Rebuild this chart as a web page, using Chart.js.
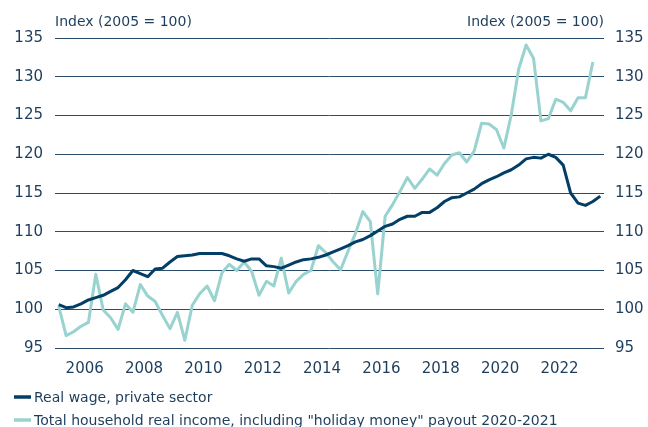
<!DOCTYPE html>
<html>
<head>
<meta charset="utf-8">
<script src="https://cdn.jsdelivr.net/npm/chart.js@4.4.1/dist/chart.umd.min.js"></script>
<style>
html, body { margin: 0; padding: 0; background: #fff; }
canvas { display: block; }
</style>
</head>
<body>
<canvas id="wageChart" width="648" height="427"></canvas>
<script>
const quarters = [
    '2005Q1','2005Q2','2005Q3','2005Q4','2006Q1','2006Q2','2006Q3','2006Q4',
    '2007Q1','2007Q2','2007Q3','2007Q4','2008Q1','2008Q2','2008Q3','2008Q4',
    '2009Q1','2009Q2','2009Q3','2009Q4','2010Q1','2010Q2','2010Q3','2010Q4',
    '2011Q1','2011Q2','2011Q3','2011Q4','2012Q1','2012Q2','2012Q3','2012Q4',
    '2013Q1','2013Q2','2013Q3','2013Q4','2014Q1','2014Q2','2014Q3','2014Q4',
    '2015Q1','2015Q2','2015Q3','2015Q4','2016Q1','2016Q2','2016Q3','2016Q4',
    '2017Q1','2017Q2','2017Q3','2017Q4','2018Q1','2018Q2','2018Q3','2018Q4',
    '2019Q1','2019Q2','2019Q3','2019Q4','2020Q1','2020Q2','2020Q3','2020Q4',
    '2021Q1','2021Q2','2021Q3','2021Q4','2022Q1','2022Q2','2022Q3','2022Q4',
    '2023Q1','2023Q2'
];

const realWage = [
    100.6, 100.2, 100.3, 100.7, 101.2, 101.5, 101.8, 102.3,
    102.8, 103.8, 105.0, 104.6, 104.2, 105.2, 105.3, 106.1,
    106.8, 106.9, 107.0, 107.2, 107.2, 107.2, 107.2, 106.9,
    106.5, 106.2, 106.5, 106.5, 105.6, 105.5, 105.3, 105.7,
    106.1, 106.4, 106.5, 106.7, 107.0, 107.4, 107.8, 108.2,
    108.7, 109.0, 109.5, 110.1, 110.7, 111.0, 111.6, 112.0,
    112.0, 112.5, 112.5, 113.1, 113.9, 114.4, 114.5, 115.0,
    115.5, 116.2, 116.7, 117.1, 117.6, 118.0, 118.6, 119.4,
    119.6, 119.5, 120.0, 119.6, 118.6, 115.0, 113.7, 113.4,
    113.9, 114.6
];

// ends one quarter before the wage series
const householdIncome = [
    100.4, 96.6, 97.1, 97.8, 98.3, 104.5, 99.9, 98.9,
    97.4, 100.7, 99.6, 103.2, 101.7, 101.0, 99.2, 97.5,
    99.6, 96.0, 100.5, 102.0, 103.0, 101.1, 104.7, 105.8,
    105.0, 106.1, 104.9, 101.8, 103.6, 103.0, 106.6, 102.1,
    103.6, 104.5, 105.0, 108.2, 107.3, 106.1, 105.1, 107.5,
    109.8, 112.6, 111.3, 102.0, 112.0, 113.5, 115.2, 117.0,
    115.6, 116.8, 118.1, 117.3, 118.8, 119.9, 120.2, 119.0,
    120.4, 124.0, 123.9, 123.2, 120.8, 125.1, 131.0, 134.1,
    132.4, 124.3, 124.6, 127.1, 126.7, 125.6, 127.3, 127.3,
    131.9
];

const yearTicks = [2006, 2008, 2010, 2012, 2014, 2016, 2018, 2020, 2022];
const seriesNames = ['Real wage, private sector', 'Total household real income, including "holiday money" payout 2020-2021'];
const axisTitle = 'Index (2005 = 100)';

const darkBlue = '#023e65';
const teal = '#98d3cf';
const textColor = '#1d3d5c';
const gridColor = '#2a4d6c';
const fontFamily = '"DejaVu Sans", sans-serif';

const toX = (label) => {
    const [year, q] = label.split('Q').map(Number);
    return year + (q - 0.5) / 4;
};

const toPoints = (values) => values.map((v, i) => ({x: toX(quarters[i]), y: v}));

const extras = {
    id: 'extras',
    afterDraw(chart) {
        const {ctx, chartArea} = chart;
        ctx.save();
        ctx.fillStyle = textColor;
        ctx.font = '14px ' + fontFamily;
        ctx.textBaseline = 'alphabetic';
        ctx.textAlign = 'left';
        ctx.fillText(axisTitle, chartArea.left, 26);
        ctx.textAlign = 'right';
        ctx.fillText(axisTitle, chartArea.right, 26);

        // legend, one entry per row
        const rows = [
            {label: seriesNames[0], color: darkBlue, y: 397},
            {label: seriesNames[1], color: teal, y: 420}
        ];
        ctx.textAlign = 'left';
        rows.forEach((row) => {
            ctx.strokeStyle = row.color;
            ctx.lineWidth = 3.5;
            ctx.beginPath();
            ctx.moveTo(14, row.y);
            ctx.lineTo(31, row.y);
            ctx.stroke();
            ctx.fillStyle = textColor;
            ctx.fillText(row.label, 34, row.y + 5);
        });
        ctx.restore();
    }
};

const yTicks = (padding) => ({
    color: textColor,
    font: {family: fontFamily, size: 15},
    padding,
    stepSize: 5
});

const config = {
    type: 'line',
    data: {
        datasets: [
            {
                label: seriesNames[0],
                data: toPoints(realWage),
                borderColor: darkBlue,
                backgroundColor: darkBlue,
                borderWidth: 3,
                pointRadius: 0,
                tension: 0,
                borderJoinStyle: 'round',
                yAxisID: 'y'
            },
            {
                label: seriesNames[1],
                data: toPoints(householdIncome),
                borderColor: teal,
                backgroundColor: teal,
                borderWidth: 3,
                pointRadius: 0,
                tension: 0,
                borderJoinStyle: 'round',
                yAxisID: 'y'
            }
        ]
    },
    options: {
        responsive: false,
        animation: false,
        devicePixelRatio: 1,
        layout: {padding: {top: 38, left: 0, right: 0, bottom: 0}},
        plugins: {
            legend: {display: false},
            tooltip: {enabled: false}
        },
        scales: {
            x: {
                type: 'linear',
                min: 2005,
                max: 2023.5,
                grid: {display: false, drawTicks: false},
                border: {display: false},
                afterBuildTicks: (scale) => {
                    scale.ticks = yearTicks.map((v) => ({value: v}));
                },
                afterFit: (scale) => { scale.height = 79; },
                ticks: {
                    color: textColor,
                    font: {family: fontFamily, size: 15},
                    padding: 12,
                    maxRotation: 0,
                    autoSkip: false,
                    callback: (value) => String(value)
                }
            },
            y: {
                position: 'left',
                min: 95,
                max: 135,
                grid: {color: gridColor, lineWidth: 1, drawTicks: false},
                border: {display: false},
                afterFit: (scale) => { scale.width = 55; },
                ticks: yTicks(12)
            },
            y2: {
                position: 'right',
                min: 95,
                max: 135,
                grid: {display: false, drawTicks: false},
                border: {display: false},
                afterFit: (scale) => { scale.width = 44; },
                ticks: yTicks(11)
            }
        }
    },
    plugins: [extras]
};

const wageChart = new Chart(document.getElementById('wageChart'), config);
</script>
</body>
</html>
